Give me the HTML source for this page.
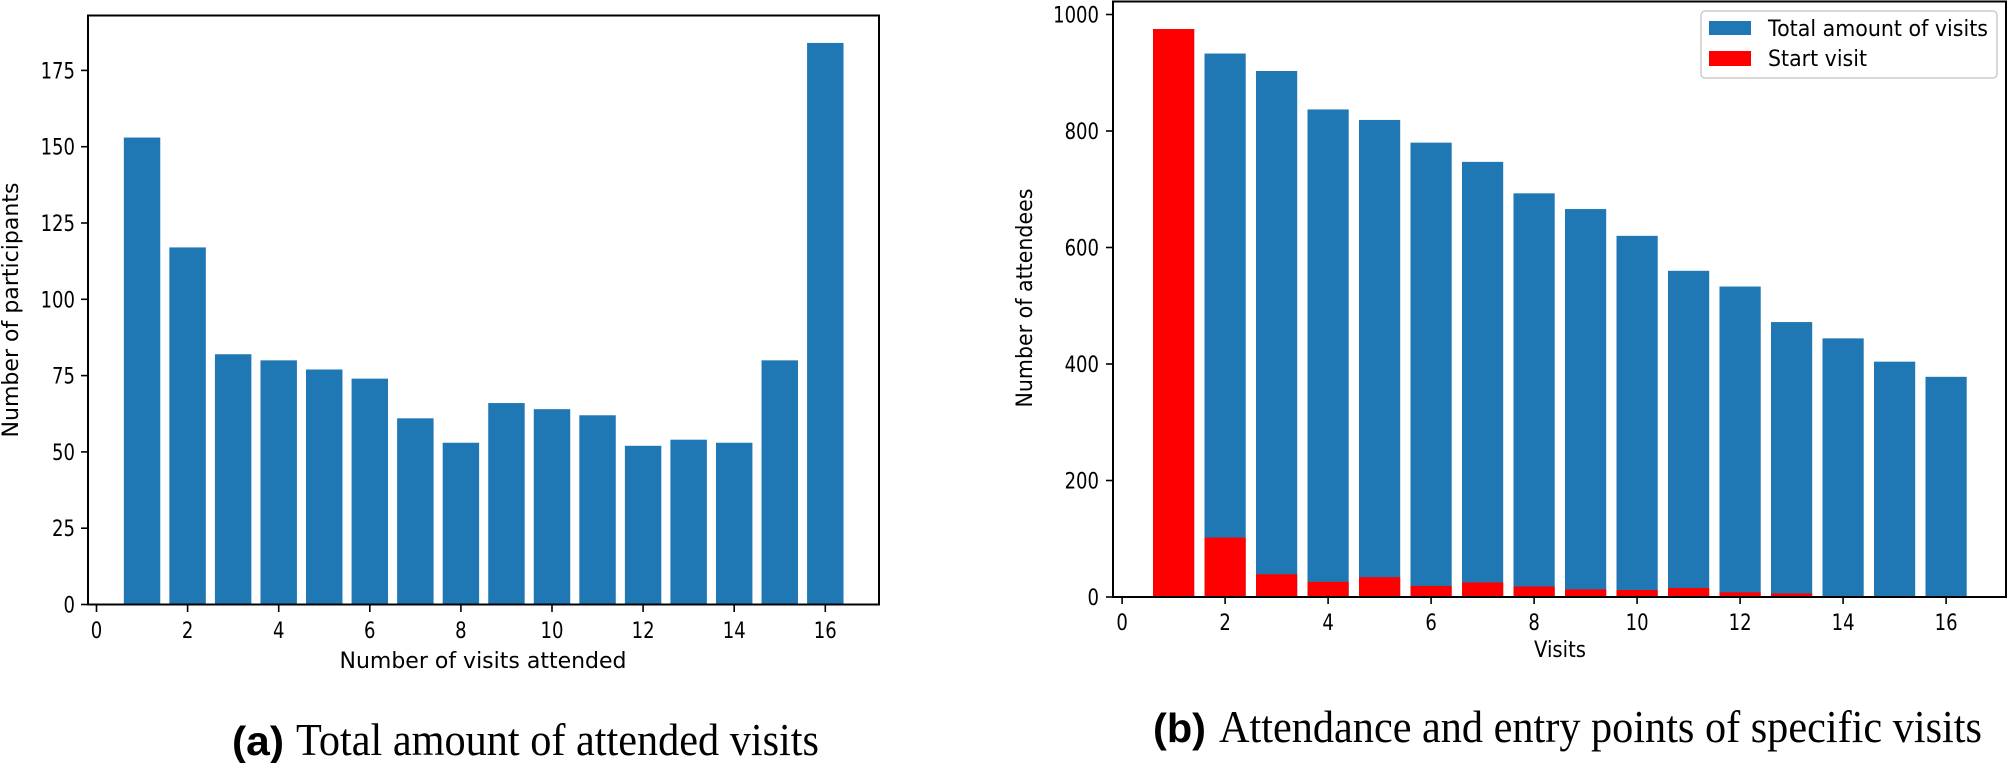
<!DOCTYPE html>
<html><head><meta charset="utf-8"><style>
html,body{margin:0;padding:0;background:#fff;}
svg{display:block;}
text{font-family:"DejaVu Sans","Liberation Sans",sans-serif;fill:#000;}
.cap{font-family:"Liberation Serif",serif;}
.capb{font-family:"Liberation Sans",sans-serif;font-weight:bold;}
</style></head><body>
<svg width="2009" height="763" viewBox="0 0 2009 763" xmlns="http://www.w3.org/2000/svg">
<g id="left"></g>
<g id="right"></g>
<script>
(function(){
var NS="http://www.w3.org/2000/svg";
function el(p,t,a,txt){var e=document.createElementNS(NS,t);for(var k in a)e.setAttribute(k,a[k]);if(txt!==undefined)e.textContent=txt;p.appendChild(e);return e;}
// LEFT
var L=document.getElementById('left');
var lv=[153,117,82,80,77,74,61,53,66,64,62,52,54,53,80,184];
var lx0=96.5,lu=45.55,ly0=604.5,lyu=3.052;
for(var i=0;i<16;i++){var c=lx0+(i+1)*lu,h=lv[i]*lyu;el(L,'rect',{x:c-0.4*lu,y:ly0-h,width:0.8*lu,height:h,fill:'#1f77b4'});}
el(L,'rect',{x:88,y:15.5,width:791,height:589,fill:'none',stroke:'#000','stroke-width':2});
for(var v=0;v<=175;v+=25){var y=ly0-v*lyu;el(L,'line',{x1:81,x2:88,y1:y,y2:y,stroke:'#000','stroke-width':1.6});el(L,'text',{x:75,y:y+8,'font-size':22,'text-anchor':'end',transform:'translate(75 0) scale(0.82 1) translate(-75 0)'},String(v));}
for(var v=0;v<=16;v+=2){var x=lx0+v*lu;el(L,'line',{x1:x,x2:x,y1:605,y2:612,stroke:'#000','stroke-width':1.6});el(L,'text',{x:x,y:638,'font-size':22,'text-anchor':'middle',transform:'translate('+x+' 0) scale(0.82 1) translate('+(-x)+' 0)'},String(v));}
el(L,'text',{x:483,y:668,'font-size':22,'text-anchor':'middle',textLength:287,lengthAdjust:'spacingAndGlyphs'},'Number of visits attended');
el(L,'text',{x:0,y:0,'font-size':22,'text-anchor':'middle',textLength:255,lengthAdjust:'spacingAndGlyphs',transform:'translate(18 310) rotate(-90)'},'Number of participants');
el(L,'text',{x:232,y:755,'font-size':41,'class':'capb',textLength:52,lengthAdjust:'spacingAndGlyphs'},'(a)');
el(L,'text',{x:296,y:755,'font-size':46,'class':'cap',textLength:523,lengthAdjust:'spacingAndGlyphs'},'Total amount of attended visits');
// RIGHT
var R=document.getElementById('right');
var tv=[975,933,903,837,819,780,747,693,666,620,560,533,472,444,404,378];
var sv=[975,102,39,26,34,19,25,18,13,12,15.5,8,6,1.5,0.5,1];
var rx0=1122.1,ru=51.5,ry0=597,ryu=0.5825;
for(var i=0;i<16;i++){var c=rx0+(i+1)*ru,h=tv[i]*ryu;el(R,'rect',{x:c-0.4*ru,y:ry0-h,width:0.8*ru,height:h,fill:'#1f77b4'});}
for(var i=0;i<16;i++){var c=rx0+(i+1)*ru,h=sv[i]*ryu;el(R,'rect',{x:c-0.4*ru,y:ry0-h,width:0.8*ru,height:h,fill:'#ff0000'});}
el(R,'rect',{x:1113,y:1.5,width:893,height:595.5,fill:'none',stroke:'#000','stroke-width':2});
for(var v=0;v<=1000;v+=200){var y=ry0-v*ryu;el(R,'line',{x1:1106,x2:1113,y1:y,y2:y,stroke:'#000','stroke-width':1.6});el(R,'text',{x:1099,y:y+8,'font-size':22,'text-anchor':'end',transform:'translate(1099 0) scale(0.82 1) translate(-1099 0)'},String(v));}
for(var v=0;v<=16;v+=2){var x=rx0+v*ru;el(R,'line',{x1:x,x2:x,y1:597,y2:604,stroke:'#000','stroke-width':1.6});el(R,'text',{x:x,y:630,'font-size':22,'text-anchor':'middle',transform:'translate('+x+' 0) scale(0.82 1) translate('+(-x)+' 0)'},String(v));}
el(R,'text',{x:1560,y:657,'font-size':22,'text-anchor':'middle',textLength:52,lengthAdjust:'spacingAndGlyphs'},'Visits');
el(R,'text',{x:0,y:0,'font-size':22,'text-anchor':'middle',textLength:219,lengthAdjust:'spacingAndGlyphs',transform:'translate(1032 298) rotate(-90)'},'Number of attendees');
// legend
el(R,'rect',{x:1701,y:11,width:296,height:67,rx:4,fill:'#fff',stroke:'#ccc','stroke-width':1.5});
el(R,'rect',{x:1709,y:21,width:42,height:14,fill:'#1f77b4'});
el(R,'rect',{x:1709,y:51,width:42,height:15,fill:'#ff0000'});
el(R,'text',{x:1768,y:36,'font-size':22,textLength:220,lengthAdjust:'spacingAndGlyphs'},'Total amount of visits');
el(R,'text',{x:1768,y:66,'font-size':22,textLength:99,lengthAdjust:'spacingAndGlyphs'},'Start visit');
el(R,'text',{x:1153,y:742,'font-size':41,'class':'capb',textLength:53,lengthAdjust:'spacingAndGlyphs'},'(b)');
el(R,'text',{x:1219,y:742,'font-size':46,'class':'cap',textLength:763,lengthAdjust:'spacingAndGlyphs'},'Attendance and entry points of specific visits');
})();
</script>
</svg>
</body></html>
